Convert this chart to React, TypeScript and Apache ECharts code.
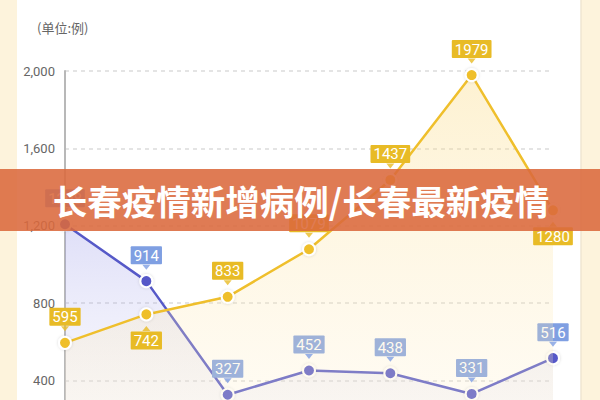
import { useEffect, useRef } from 'react';
import * as echarts from 'echarts';

// 数据
const days = ['1', '2', '3', '4', '5', '6', '7'];
const yellowValues = [595, 742, 833, 1079, 1437, 1979, 1280];
const blueValues = [1208, 914, 327, 452, 438, 331, 516];
// 标签在点的下方的序号
const yellowBelow = [1, 6];
const blueBelow: number[] = [];
const yTicks = [0, 400, 800, 1200, 1600, 2000];

const YELLOW = '#efbf2c';
const YELLOW_LABEL = '#e8bb26';
const BLUE = '#5659c8';
const BLUE_LABEL = '#7f9fe2';

const lineSeries = (
  name: string,
  values: number[],
  below: number[],
  color: string,
  labelColor: string,
  area: [string, string],
  z: number
) => ({
  name,
  type: 'line',
  z,
  data: values.map((v, i) => ({
    value: v,
    label: { position: below.includes(i) ? 'bottom' : 'top' },
  })),
  symbol: 'circle',
  symbolSize: 12,
  lineStyle: { color, width: 2.5 },
  itemStyle: {
    color,
    borderColor: '#fff',
    borderWidth: 2,
    shadowColor: 'rgba(0,0,0,0.15)',
    shadowBlur: 3,
  },
  areaStyle: {
    color: new echarts.graphic.LinearGradient(0, 0, 0, 1, [
      { offset: 0, color: area[0] },
      { offset: 1, color: area[1] },
    ]),
  },
  label: {
    show: true,
    distance: 10,
    color: '#fff',
    fontFamily: 'Roboto',
    fontSize: 15,
    lineHeight: 15,
    backgroundColor: labelColor,
    padding: [2, 3, 1, 3],
    borderRadius: 1,
  },
});

// 标签下面的小三角
const pointerSeries = (values: number[], below: number[], color: string, z: number) => ({
  type: 'scatter',
  z,
  silent: true,
  data: values.map((v, i) => {
    const b = below.includes(i);
    return {
      value: v,
      symbolRotate: b ? 0 : 180,
      symbolOffset: [0, b ? 14 : -14],
    };
  }),
  symbol: 'triangle',
  symbolSize: [8, 5],
  itemStyle: { color },
});

export default function App() {
  const chartRef = useRef<HTMLDivElement>(null);

  useEffect(() => {
    if (!chartRef.current) return;
    const chart = echarts.init(chartRef.current, null, { renderer: 'svg' });

    const option = {
      animation: false,
      backgroundColor: '#ffffff',
      // 画布比窗口高，0 轴在窗口下方之外
      grid: { left: 65, right: 47, top: 71, bottom: 2 },
      xAxis: {
        type: 'category',
        data: days,
        boundaryGap: false,
        axisLine: { show: false },
        axisTick: { show: false },
        axisLabel: { show: false },
      },
      yAxis: {
        type: 'value',
        min: yTicks[0],
        max: yTicks[yTicks.length - 1],
        interval: 400,
        axisLine: { show: true, lineStyle: { color: '#b8b8b8', width: 2 } },
        axisTick: { show: false },
        axisLabel: {
          showMinLabel: false,
          color: '#666',
          fontSize: 13,
          fontFamily: 'Roboto',
          margin: 10,
          formatter: (v: number) => v.toLocaleString('en-US'),
        },
        splitLine: { lineStyle: { color: '#dcdcdc', type: [4, 4], width: 1.5 } },
      },
      series: [
        lineSeries('blue', blueValues, blueBelow, BLUE, BLUE_LABEL,
          ['rgba(140,140,230,0.4)', 'rgba(225,225,245,0.15)'], 3),
        lineSeries('yellow', yellowValues, yellowBelow, YELLOW, YELLOW_LABEL,
          ['rgba(250,215,120,0.48)', 'rgba(255,243,215,0.3)'], 4),
        pointerSeries(blueValues, blueBelow, BLUE_LABEL, 5),
        pointerSeries(yellowValues, yellowBelow, YELLOW_LABEL, 5),
      ],
      graphic: [
        { type: 'rect', z: 50, shape: { x: 0, y: 0, width: 17, height: 460 }, style: { fill: '#fdf3dc' } },
        { type: 'rect', z: 50, shape: { x: 581, y: 0, width: 19, height: 460 }, style: { fill: '#fdf3dc' } },
        { type: 'line', z: 50, shape: { x1: 581, y1: 0, x2: 581, y2: 460 }, style: { stroke: '#efe6d2', lineWidth: 1.5 } },
        {
          type: 'text',
          z: 50,
          left: 37,
          top: 21,
          style: { text: '(单位:例)', fill: '#666', fontSize: 13, fontFamily: 'Noto Sans CJK SC' },
        },
        {
          type: 'rect',
          z: 100,
          shape: { x: 0, y: 169, width: 600, height: 62 },
          style: { fill: 'rgba(219,105,60,0.88)' },
        },
        {
          type: 'text',
          z: 101,
          x: 301,
          y: 200,
          style: {
            text: '长春疫情新增病例/长春最新疫情',
            fill: '#fff',
            fontSize: 34.5,
            fontWeight: 'bold',
            fontFamily: 'Noto Sans CJK SC',
            align: 'center',
            verticalAlign: 'middle',
          },
        },
      ],
    };

    chart.setOption(option);
    return () => chart.dispose();
  }, []);

  return (
    <div
      ref={chartRef}
      style={{ position: 'fixed', left: 0, top: 0, width: 600, height: 460 }}
    />
  );
}
